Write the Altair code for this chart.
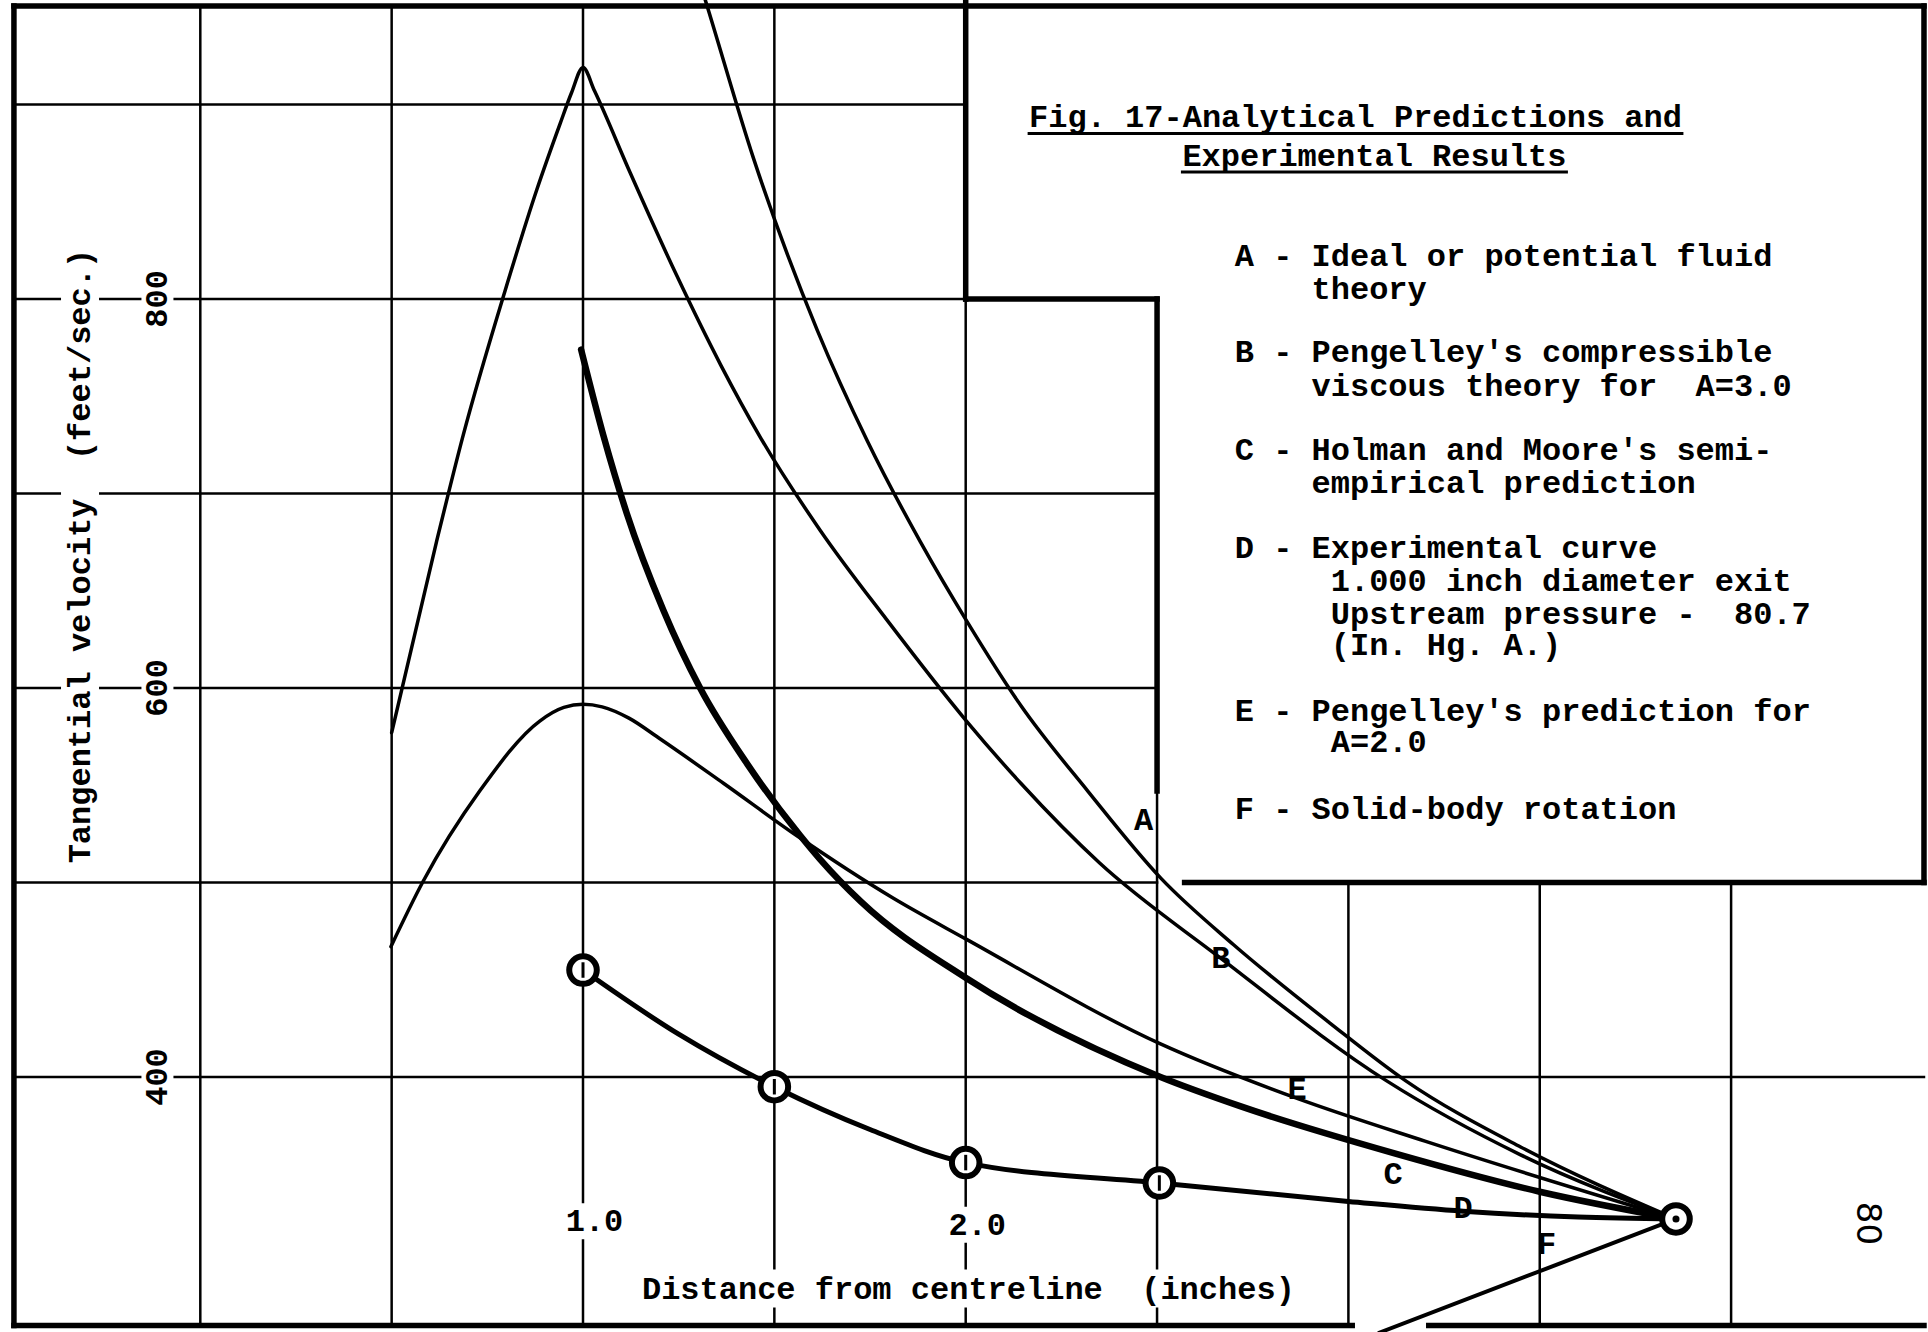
import altair as alt
import pandas as pd

# ---------------- canvas / scale set-up ----------------
W, H = 1928, 1332
X_DOMAIN = [-0.5234, 4.5145]     # inches across the whole sheet
Y_DOMAIN = [268.9, 953.7]        # ft/s across the whole sheet
PX_X = W / (X_DOMAIN[1] - X_DOMAIN[0])
PX_Y = H / (Y_DOMAIN[1] - Y_DOMAIN[0])

FONT = "Liberation Mono"
FS = 32
CHAR_PX = 0.6 * FS
CHAR_X = CHAR_PX / PX_X

# ---------------- curve data ----------------
A_R = [1.300, 1.319, 1.446, 1.612, 1.743, 1.882, 2.004, 2.144, 2.319, 2.511, 2.700, 2.950, 3.150, 3.450, 3.856]
A_V = [966, 954, 872, 784, 727, 675, 634, 591, 547, 502, 468, 428, 398, 364, 327]

B_R = [0.500, 0.617, 0.687, 0.796, 0.879, 0.940, 0.970, 1.000, 1.030, 1.123, 1.245, 1.360, 1.463, 1.620, 1.794, 2.002, 2.144, 2.350, 2.660, 3.100, 3.450, 3.856]
B_V = [577, 675, 730, 804, 856, 890, 906, 919, 907, 865, 812, 766, 729, 681, 635, 583, 551, 510, 462, 398, 360, 327]

C_R = [0.995, 1.053, 1.114, 1.210, 1.306, 1.429, 1.568, 1.619, 1.727, 2.000, 2.509, 2.717, 3.116, 3.500, 3.856]
C_V = [774, 730, 690, 640, 600, 561, 524, 512, 490, 451, 400, 385, 361, 341, 327]

D_R = [1.000, 1.250, 1.500, 1.750, 2.000, 2.506, 3.000, 3.300, 3.600, 3.856]
D_V = [455, 422, 395, 373, 356, 345.5, 336, 331, 328, 327]

E_R = [0.498, 0.582, 0.730, 0.887, 0.950, 1.000, 1.050, 1.120, 1.200, 1.367, 1.559, 1.810, 2.000, 2.509, 2.866, 3.200, 3.856]
E_V = [467, 500.5, 547, 583, 590, 591.6, 590.3, 584.5, 574, 551, 524, 492, 471, 417, 389, 367, 327]

F_R = [3.856, 3.080]
F_V = [327, 268.5]

# experimental points (curve D)
M_R = [1.000, 1.500, 2.000, 2.506, 3.856]
M_V = [455, 395, 356, 345.5, 327]

# ---------------- graph-paper grid & frame ----------------
LEFT, RIGHT, TOP, BOTTOM = -0.487, 4.504, 950.6, 272.2
GRID_VX = [0.0, 0.5, 1.0, 1.5, 2.0, 2.5, 3.0, 3.5, 4.0]
GRID_VTOP = [TOP, TOP, TOP, TOP, 800, 547, 500, 500, 500]
GRID_HY = [900, 800, 700, 600, 500, 400]
GRID_HRIGHT = [2.0, 2.0, 2.5, 2.5, 2.5, RIGHT]

# heavy lines: (x1, y1, x2, y2)
HEAVY = [
    (LEFT, TOP, RIGHT, TOP),
    (LEFT, TOP, LEFT, BOTTOM),
    (LEFT, BOTTOM, 3.01, BOTTOM),
    (3.21, BOTTOM, RIGHT, BOTTOM),
    (RIGHT, TOP, RIGHT, 500),
    (2.0, Y_DOMAIN[1], 2.0, 800),
    (2.0, 800, 2.5, 800),
    (2.5, 800, 2.5, 547),
    (2.572, 500, RIGHT, 500),
]

# ---------------- texts ----------------
Y_TICKS = [800, 600, 400]
Y_TICK_LABELS = ["800", "600", "400"]
Y_TICK_R = -0.112
X_TICK_LABELS = ["1.0", "2.0"]
X_TICK_R = [1.03, 2.03]
X_TICK_V = [325.9, 324.0]

Y_TITLE = "Tangential velocity\u00a0 (feet/sec.)"
Y_TITLE_POS = (-0.3143, 667.8)
X_TITLE = "Distance from centreline\u00a0 (inches)"
X_TITLE_POS = (2.007, 291.2)

CURVE_LABELS = ["A", "B", "E", "C", "D", "F"]
CURVE_LABEL_R = [2.465, 2.667, 2.866, 3.117, 3.300, 3.518]
CURVE_LABEL_V = [532, 461, 393.6, 350, 332.9, 313.9]

TITLE_LINES = ["Fig. 17-Analytical Predictions and", "Experimental Results"]
TITLE_R = [3.0186, 3.068]
TITLE_V = [893.3, 873.5]

LEGEND_TEXT = [
    "A - Ideal or potential fluid", "theory",
    "B - Pengelley's compressible", "viscous theory for\u00a0 A=3.0",
    "C - Holman and Moore's semi-", "empirical prediction",
    "D - Experimental curve", "1.000 inch diameter exit",
    "Upstream pressure -\u00a0 80.7", "(In. Hg. A.)",
    "E - Pengelley's prediction for", "A=2.0",
    "F - Solid-body rotation",
]
LEGEND_INDENT = [0, 4, 0, 4, 0, 4, 0, 5, 5, 5, 0, 5, 0]
LEGEND_V = [822.1, 805.1, 772.7, 755.2, 722.4, 705.4, 671.9, 655.0, 638.0, 622.1, 588.1, 572.2, 537.8]
LEGEND_R0 = 2.703

PAGE_NO = "80"
PAGE_NO_POS = (4.354, 324.7)

# ---------------- helpers ----------------
xs = alt.Scale(domain=X_DOMAIN, nice=False, zero=False)
ys = alt.Scale(domain=Y_DOMAIN, nice=False, zero=False)


def X(f):
    return alt.X(f, type="quantitative", scale=xs, axis=None)


def Y(f):
    return alt.Y(f, type="quantitative", scale=ys, axis=None)


def rules(df, width):
    return alt.Chart(df).mark_rule(color="black", strokeWidth=width, strokeCap="square").encode(
        x=X("x1"), x2="x2", y=Y("y1"), y2="y2")


layers = []

# thin grid
grid_rows = []
for gx, gt in zip(GRID_VX, GRID_VTOP):
    grid_rows.append(dict(x1=gx, x2=gx, y1=gt, y2=BOTTOM))
for gy, gr in zip(GRID_HY, GRID_HRIGHT):
    grid_rows.append(dict(x1=LEFT, x2=gr, y1=gy, y2=gy))
layers.append(rules(pd.DataFrame(grid_rows), 2.5))

# heavy frame lines
layers.append(rules(pd.DataFrame([dict(x1=a, y1=b, x2=c, y2=d) for a, b, c, d in HEAVY]), 5.5))

# white masks behind axis labels (gaps in the grid lines)
mask_rows = []
for v, lab in zip(Y_TICKS, Y_TICK_LABELS):
    hw = (len(lab) * CHAR_PX / 2 + 9) / PX_Y
    mask_rows.append(dict(x1=Y_TICK_R - 16 / PX_X, x2=Y_TICK_R + 16 / PX_X, y1=v - hw, y2=v + hw))
hw = (len(Y_TITLE) * CHAR_PX / 2 + 6) / PX_Y
mask_rows.append(dict(x1=Y_TITLE_POS[0] - 19 / PX_X, x2=Y_TITLE_POS[0] + 19 / PX_X,
                      y1=Y_TITLE_POS[1] - hw, y2=Y_TITLE_POS[1] + hw))
for r, v, lab in zip(X_TICK_R, X_TICK_V, X_TICK_LABELS):
    hw = (len(lab) * CHAR_PX / 2 + 8) / PX_X
    mask_rows.append(dict(x1=r - hw, x2=r + hw, y1=v - 18 / PX_Y, y2=v + 18 / PX_Y))
hw = (len(X_TITLE) * CHAR_PX / 2 + 6) / PX_X
mask_rows.append(dict(x1=X_TITLE_POS[0] - hw, x2=X_TITLE_POS[0] + hw,
                      y1=X_TITLE_POS[1] - 19 / PX_Y, y2=X_TITLE_POS[1] + 19 / PX_Y))
layers.append(alt.Chart(pd.DataFrame(mask_rows)).mark_rect(color="white").encode(
    x=X("x1"), x2="x2", y=Y("y1"), y2="y2"))

# title underlines
ul_rows = []
for t, r, v in zip(TITLE_LINES, TITLE_R, TITLE_V):
    half = len(t) * CHAR_X / 2
    ul_rows.append(dict(x1=r - half, x2=r + half, y1=v - 16 / PX_Y, y2=v - 16 / PX_Y))
layers.append(rules(pd.DataFrame(ul_rows), 3))

# curves
for rs, vs, sw in [(A_R, A_V, 3.5), (B_R, B_V, 3.5), (E_R, E_V, 3.5),
                   (C_R, C_V, 6.5), (D_R, D_V, 5), (F_R, F_V, 4)]:
    df = pd.DataFrame({"r": rs, "v": vs})
    layers.append(alt.Chart(df).mark_line(color="black", strokeWidth=sw, interpolate="monotone",
                                          clip=True, strokeCap="round", strokeJoin="round").encode(
        x=X("r"), y=Y("v")))

# experimental points
mdf = pd.DataFrame({"r": M_R, "v": M_V})
layers.append(alt.Chart(mdf).mark_point(shape="circle", size=760, fill="white", fillOpacity=1,
                                        stroke="black", strokeWidth=6, opacity=1).encode(
    x=X("r"), y=Y("v")))
layers.append(alt.Chart(mdf.iloc[:-1]).mark_point(shape="M0,-1L0,1", size=240, stroke="black",
                                                  strokeWidth=3, opacity=1).encode(
    x=X("r"), y=Y("v")))
layers.append(alt.Chart(mdf.iloc[-1:]).mark_point(shape="circle", size=50, filled=True,
                                                  color="black", opacity=1).encode(
    x=X("r"), y=Y("v")))


def text_layer(df, **kw):
    base = dict(font=FONT, fontSize=FS, fontWeight="bold", color="black", baseline="middle")
    base.update(kw)
    return alt.Chart(df).mark_text(**base).encode(x=X("r"), y=Y("v"), text="t:N")


# axis tick labels and titles
layers.append(text_layer(pd.DataFrame({"r": [Y_TICK_R] * 3, "v": Y_TICKS, "t": Y_TICK_LABELS}),
                         angle=270, align="center"))
layers.append(text_layer(pd.DataFrame({"r": [Y_TITLE_POS[0]], "v": [Y_TITLE_POS[1]], "t": [Y_TITLE]}),
                         angle=270, align="center"))
layers.append(text_layer(pd.DataFrame({"r": X_TICK_R, "v": X_TICK_V, "t": X_TICK_LABELS}),
                         align="center"))
layers.append(text_layer(pd.DataFrame({"r": [X_TITLE_POS[0]], "v": [X_TITLE_POS[1]], "t": [X_TITLE]}),
                         align="center"))

# curve letters
layers.append(text_layer(pd.DataFrame({"r": CURVE_LABEL_R, "v": CURVE_LABEL_V, "t": CURVE_LABELS}),
                         align="center"))

# title
layers.append(text_layer(pd.DataFrame({"r": TITLE_R, "v": TITLE_V, "t": TITLE_LINES}),
                         align="center"))

# legend
legend_df = pd.DataFrame({
    "r": [LEGEND_R0 + n * CHAR_X for n in LEGEND_INDENT],
    "v": LEGEND_V,
    "t": LEGEND_TEXT,
})
layers.append(text_layer(legend_df, align="left"))

# page number
layers.append(text_layer(pd.DataFrame({"r": [PAGE_NO_POS[0]], "v": [PAGE_NO_POS[1]], "t": [PAGE_NO]}),
                         angle=90, align="center", font="DejaVu Sans", fontWeight="normal", fontSize=34))

chart = alt.layer(*layers).properties(
    width=W, height=H, padding=0, background="white",
    autosize=alt.AutoSizeParams(type="none"),
).configure_view(strokeWidth=0)

chart.save("out.html", embed_options={"renderer": "svg", "actions": False})
